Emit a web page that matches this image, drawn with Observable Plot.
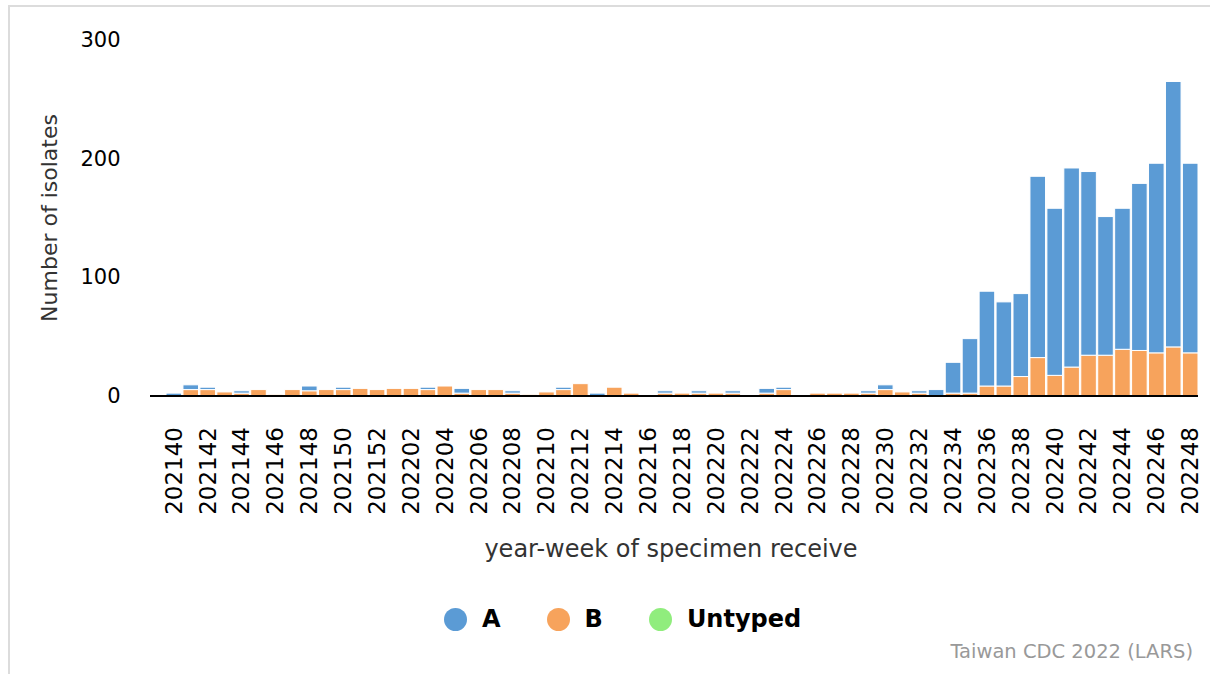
<!DOCTYPE html>
<html>
<head>
<meta charset="utf-8">
<script src="https://cdn.jsdelivr.net/npm/d3@7"></script>
<script src="https://cdn.jsdelivr.net/npm/@observablehq/plot@0.6"></script>
<style>
  html, body { margin: 0; padding: 0; background: #fff; }
  #wrap { position: relative; width: 1210px; height: 674px; overflow: hidden; font-family: "DejaVu Sans", sans-serif; }
  #frame { position: absolute; left: 8px; top: 5px; width: 1210px; height: 680px; border-left: 2px solid #dcdcdc; border-top: 2px solid #dcdcdc; pointer-events: none; }
  #chart { position: absolute; left: 0; top: 0; }
  #legend { position: absolute; left: 444px; top: 605px; display: flex; align-items: center; font-weight: bold; font-size: 24px; color: #000; }
  .item { display: flex; align-items: center; margin-right: 46px; }
  .dot { width: 23px; height: 23px; border-radius: 50%; margin-right: 15px; }
  #credit { position: absolute; right: 17px; top: 640px; font-size: 19.5px; color: #999; }
</style>
</head>
<body>
<div id="wrap">
  <div id="chart"></div>
  <div id="frame"></div>
  <div id="legend"></div>
  <div id="credit">Taiwan CDC 2022 (LARS)</div>
</div>
<script>
const weeks = [
  "202140","202141","202142","202143","202144","202145","202146","202147","202148","202149","202150","202151","202152",
  "202201","202202","202203","202204","202205","202206","202207","202208","202209","202210","202211","202212",
  "202213","202214","202215","202216","202217","202218","202219","202220","202221","202222","202223","202224",
  "202225","202226","202227","202228","202229","202230","202231","202232","202233","202234","202235","202236",
  "202237","202238","202239","202240","202241","202242","202243","202244","202245","202246","202247","202248"
];
const tickLabels = [
  "202140","202142","202144","202146","202148","202150","202152","202202","202204","202206","202208","202210",
  "202212","202214","202216","202218","202220","202222","202224","202226","202228","202230","202232","202234",
  "202236","202238","202240","202242","202244","202246","202248"
];
const valuesA = [
  2,4,2,0,2,0,0,0,4,0,2,0,0,
  0,0,2,0,4,0,0,2,0,0,2,0,
  2,0,0,0,2,0,2,0,2,0,4,2,
  0,0,0,0,2,4,0,2,5,26,46,80,
  71,70,153,141,168,155,117,119,141,160,224,160
];
const valuesB = [
  0,5,5,3,2,5,1,5,4,5,5,6,5,
  6,6,5,8,2,5,5,2,1,3,5,10,
  0,7,2,0,2,2,2,2,2,0,2,5,
  0,2,2,2,2,5,3,2,0,2,2,8,
  8,16,32,17,24,34,34,39,38,36,41,36
];
const valuesUntyped = [
  0,0,0,0,0,0,0,0,0,0,0,0,0,
  0,0,0,0,0,0,0,0,0,0,0,0,
  0,0,0,0,0,0,0,0,0,0,0,0,
  0,0,0,0,0,0,0,0,0,0,0,0,
  0,0,0,0,0,0,0,0,0,0,0,0
];
const seriesNames = ["A", "B", "Untyped"];
const seriesColors = ["#5b9bd5", "#f7a35c", "#90ed7d"];
const yTicks = [0, 100, 200, 300];

const rows = [];
weeks.forEach((w, i) => {
  rows.push({week: w, type: "Untyped", value: valuesUntyped[i]});
  rows.push({week: w, type: "B", value: valuesB[i]});
  rows.push({week: w, type: "A", value: valuesA[i]});
});

const chart = Plot.plot({
  width: 1210,
  height: 580,
  marginTop: 40,
  marginBottom: 184.5,
  marginLeft: 150,
  marginRight: 12,
  style: {fontFamily: "DejaVu Sans, sans-serif", background: "transparent", color: "#000"},
  x: {type: "band", domain: weeks, range: [165.5, 1198.5], paddingInner: 0.08, paddingOuter: 0.03},
  y: {domain: [0, 300]},
  color: {domain: seriesNames, range: seriesColors},
  marks: [
    Plot.barY(rows, {x: "week", y: "value", fill: "type", stroke: "#fff", strokeWidth: 1}),
    Plot.ruleY([0], {stroke: "#000", strokeWidth: 2}),
    Plot.axisY({ticks: yTicks, tickSize: 0, tickPadding: 30, fontSize: 21, label: null, fill: "#000"}),
    Plot.axisX({ticks: tickLabels, tickSize: 0, tickPadding: 39, tickRotate: -90, fontSize: 23, label: null, fill: "#000", dy: -8})
  ]
});

const svg = d3.select(chart);
svg.append("text")
  .attr("transform", "translate(51,218) rotate(-90)")
  .attr("text-anchor", "middle")
  .attr("dominant-baseline", "middle")
  .attr("font-size", 22)
  .attr("fill", "#333")
  .text("Number of isolates");
svg.append("text")
  .attr("x", 671)
  .attr("y", 550)
  .attr("text-anchor", "middle")
  .attr("dominant-baseline", "middle")
  .attr("font-size", 24)
  .attr("fill", "#333")
  .text("year-week of specimen receive");

document.getElementById("chart").appendChild(chart);

const legend = d3.select("#legend");
seriesNames.forEach((name, i) => {
  const item = legend.append("div").attr("class", "item");
  item.append("div").attr("class", "dot").style("background", seriesColors[i]);
  item.append("span").text(name);
});
</script>
</body>
</html>
